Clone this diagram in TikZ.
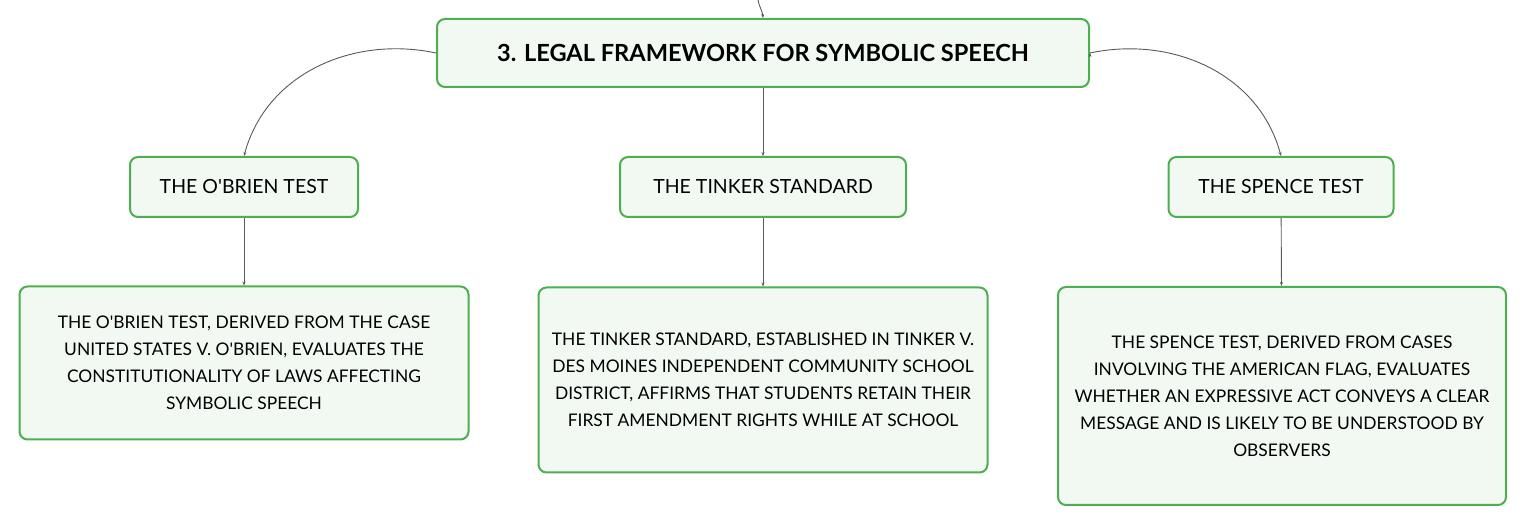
\documentclass[tikz,border=0pt]{standalone}
\usepackage{fontspec}
\setmainfont{Lato}
\usetikzlibrary{positioning,arrows.meta}
\definecolor{boxgreen}{HTML}{4CAF50}
\definecolor{boxfill}{HTML}{F2F9F2}
\definecolor{linkgrey}{HTML}{5A5A5A}
\newcommand{\apos}{\textquotesingle}

\begin{document}
\begin{tikzpicture}[x=1pt,y=-1pt,
topic/.style={rectangle, rounded corners=8pt, draw=boxgreen, line width=2pt, fill=boxfill, font=\fontsize{23.6}{28}\selectfont\bfseries, minimum width=652pt, minimum height=68pt},
sub/.style={rectangle, rounded corners=8pt, draw=boxgreen, line width=2pt, fill=boxfill, font=\fontsize{19.5}{22}\selectfont, minimum height=60pt},
leaf/.style={rectangle, rounded corners=8pt, draw=boxgreen, line width=2pt, fill=boxfill, font=\fontsize{17.4}{27}\selectfont, align=center, minimum width=449pt},
link/.style={draw=linkgrey, line width=0.9pt, -{Stealth[length=4pt,width=3pt]}},
]
\useasboundingbox (0,0) rectangle (1527,526);

\node[topic] (title) at (763,53) {3. LEGAL FRAMEWORK FOR SYMBOLIC SPEECH};
\coordinate (parent) at (758,0);

\node[sub, minimum width=228pt] (obrien) at (244,187) {THE O\apos BRIEN TEST};
\node[sub, minimum width=286pt] (tinker) at (763,187) {THE TINKER STANDARD};
\node[sub, minimum width=225pt] (spence) at (1281,187) {THE SPENCE TEST};

\node[leaf, minimum height=153pt] (obrientext) at (244,363) {THE O\apos BRIEN TEST, DERIVED FROM THE CASE\\UNITED STATES V. O\apos BRIEN, EVALUATES THE\\CONSTITUTIONALITY OF LAWS AFFECTING\\SYMBOLIC SPEECH};
\node[leaf, minimum height=185pt] (tinkertext) at (763,380) {THE TINKER STANDARD, ESTABLISHED IN TINKER V.\\DES MOINES INDEPENDENT COMMUNITY SCHOOL\\DISTRICT, AFFIRMS THAT STUDENTS RETAIN THEIR\\FIRST AMENDMENT RIGHTS WHILE AT SCHOOL};
\node[leaf, minimum height=218pt, minimum width=448pt] (spencetext) at (1282,396) {THE SPENCE TEST, DERIVED FROM CASES\\INVOLVING THE AMERICAN FLAG, EVALUATES\\WHETHER AN EXPRESSIVE ACT CONVEYS A CLEAR\\MESSAGE AND IS LIKELY TO BE UNDERSTOOD BY\\OBSERVERS};

\path[link]
(parent) edge[out=-80,in=95] (title.north)
(title.west) edge[out=168,in=75] (obrien.north)
(title) edge (tinker)
(title.east) edge[out=12,in=105] (spence.north)
(obrien) edge (obrientext)
(tinker) edge (tinkertext)
(spence) edge (spencetext)
;
\end{tikzpicture}
\end{document}
